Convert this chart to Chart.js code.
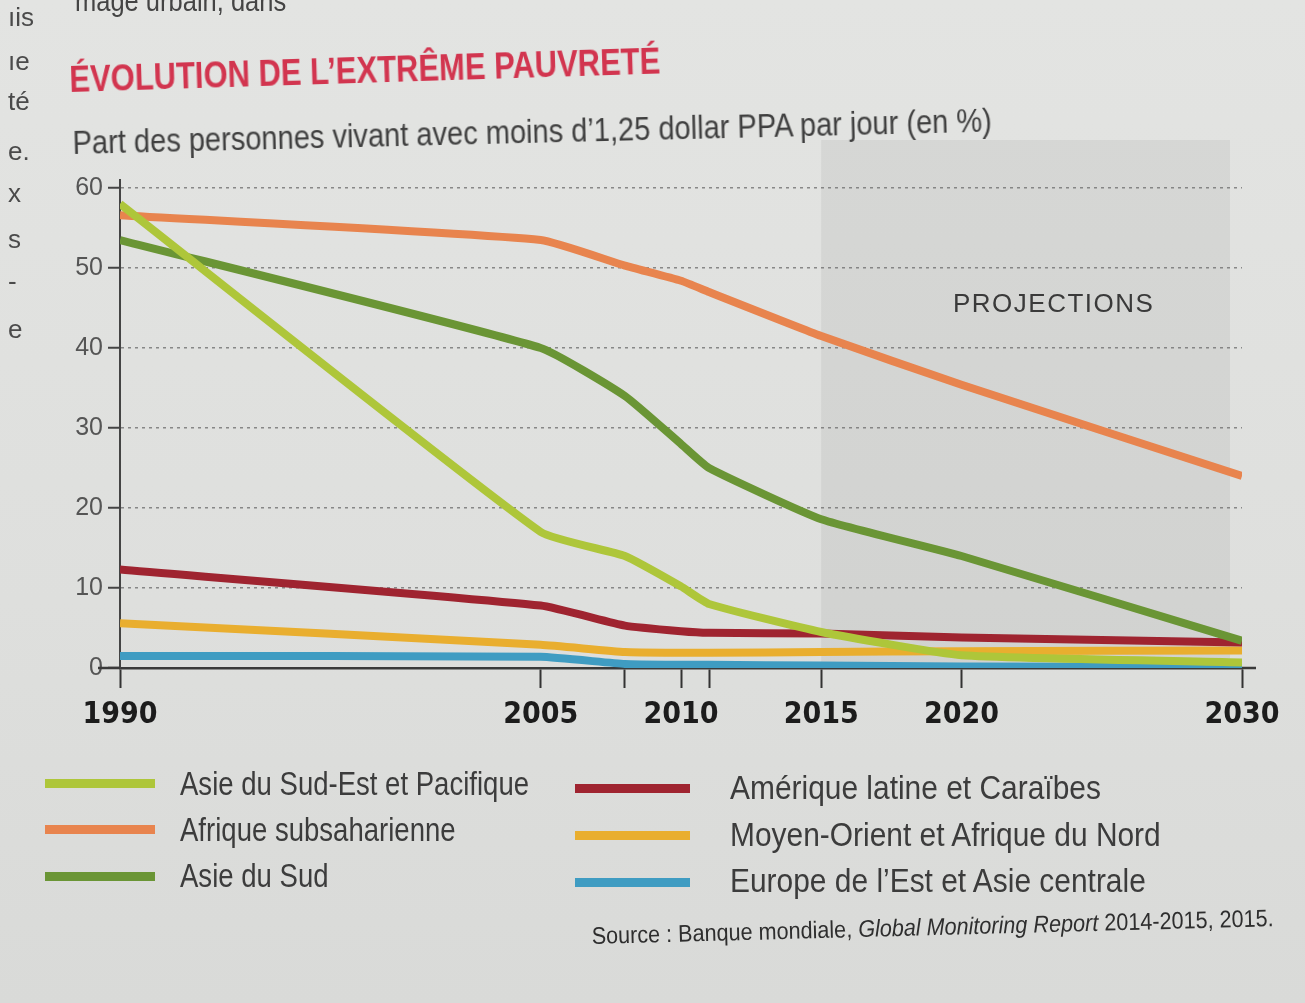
<!DOCTYPE html>
<html lang="fr">
<head>
<meta charset="utf-8">
<title>Évolution de l'extrême pauvreté</title>
<script src="https://cdn.jsdelivr.net/npm/chart.js@4/dist/chart.umd.min.js"></script>
<style>
  html, body { margin: 0; padding: 0; }
  body {
    width: 1305px; height: 1003px; overflow: hidden; position: relative;
    background: linear-gradient(180deg, #e3e4e2 0%, #dedfdd 60%, #d9dad8 100%);
    font-family: "Liberation Sans", sans-serif;
    color: #3d3d3d;
  }
  #chart { position: absolute; left: 0; top: 0; }
  .txt { position: absolute; white-space: nowrap; line-height: 1; transform-origin: left bottom; }
  #title {
    left: 70px; top: 62px; font-size: 36px; font-weight: bold; color: #d2354f;
    transform: rotate(-1.8deg) scaleX(0.86);
  }
  #subtitle {
    left: 73px; top: 126px; font-size: 33px; color: #3f3f3f;
    transform: rotate(-1.4deg) scaleX(0.88);
  }
  #proj { left: 953px; top: 290px; font-size: 26px; letter-spacing: 1.5px; color: #3a3a3a; }
  .sw { position: absolute; height: 9px; }
  .lg {
    position: absolute; white-space: nowrap; line-height: 1; font-size: 34px; color: #3c3c3c;
    transform-origin: left center;
  }
  #source {
    left: 592px; top: 924px; font-size: 24px; color: #2e2e2e;
    transform: rotate(-1.5deg) scaleX(0.9);
  }
  .edge { position: absolute; left: 8px; font-size: 26px; color: #4a4a4a; line-height: 1; }
</style>
</head>
<body>
<canvas id="chart" width="1305" height="1003"></canvas>

<div class="txt" style="left:75px; top:-14px; font-size:30px; color:#444; transform:scaleX(0.85);">mage urbain, dans</div>
<div class="edge" style="top:4px;">ıis</div>
<div class="edge" style="top:48px;">ıe</div>
<div class="edge" style="top:88px;">té</div>
<div class="edge" style="top:138px;">e.</div>
<div class="edge" style="top:180px;">x</div>
<div class="edge" style="top:226px;">s</div>
<div class="edge" style="top:268px;">-</div>
<div class="edge" style="top:316px;">e</div>

<div class="txt" id="title">ÉVOLUTION DE L’EXTRÊME PAUVRETÉ</div>
<div class="txt" id="subtitle">Part des personnes vivant avec moins d’1,25 dollar PPA par jour (en %)</div>
<div class="txt" id="proj">PROJECTIONS</div>
<div id="legend"></div>
<div class="txt" id="source">Source : Banque mondiale, <i>Global Monitoring Report</i> 2014-2015, 2015.</div>

<script>
  // ---------- data ----------
  const years     = [1990, 2005, 2008, 2010, 2011, 2015, 2020, 2030];
  const hiddenTickYears = [2008, 2011];   // tick marks without a label
  const yTicks    = [0, 10, 20, 30, 40, 50, 60];
  const projStart = 2015;

  const seAsia    = [58,   17,   14,   10.2, 8,    4.5,  1.6,  0.7];
  const ssAfrica  = [56.6, 53.5, 50.3, 48.4, 47,   41.5, 35.4, 24];
  const southAsia = [53.5, 40,   34,   28,   25,   18.6, 14,   3.4];
  const latAm     = [12.3, 7.8,  5.3,  4.6,  4.4,  4.3,  3.8,  3.2];
  const mena      = [5.6,  2.9,  2,    1.9,  1.9,  2,    2.1,  2.2];
  const eca       = [1.5,  1.4,  0.5,  0.4,  0.4,  0.3,  0.2,  0.1];

  const regionNames = [
    "Asie du Sud-Est et Pacifique",
    "Afrique subsaharienne",
    "Asie du Sud",
    "Amérique latine et Caraïbes",
    "Moyen-Orient et Afrique du Nord",
    "Europe de l’Est et Asie centrale"
  ];
  const regionColors = ["#aec63a", "#e8844e", "#6a9535", "#9f2430", "#e9ae2f", "#3f9cc2"];
  const series = [seAsia, ssAfrica, southAsia, latAm, mena, eca];

  // ---------- html legend, two columns of three ----------
  const legendEl = document.getElementById("legend");
  const legendPos = [
    { sx: 45,  sw: 110, sy: 779, tx: 180, ty: 766, k: 0.81 },
    { sx: 45,  sw: 110, sy: 825, tx: 180, ty: 812, k: 0.81 },
    { sx: 45,  sw: 110, sy: 872, tx: 180, ty: 858, k: 0.81 },
    { sx: 575, sw: 115, sy: 784, tx: 730, ty: 770, k: 0.88 },
    { sx: 575, sw: 115, sy: 831, tx: 730, ty: 817, k: 0.88 },
    { sx: 575, sw: 115, sy: 878, tx: 730, ty: 863, k: 0.88 }
  ];
  regionNames.forEach((name, i) => {
    const p = legendPos[i];
    const sw = document.createElement("div");
    sw.className = "sw";
    sw.style.cssText = `left:${p.sx}px; top:${p.sy}px; width:${p.sw}px; background:${regionColors[i]};`;
    const lb = document.createElement("div");
    lb.className = "lg";
    lb.style.cssText = `left:${p.tx}px; top:${p.ty}px; transform:scaleX(${p.k});`;
    lb.textContent = name;
    legendEl.append(sw, lb);
  });

  /* ---------- plugins ---------- */
  // grey band behind the projected years
  const projectionBand = {
    id: "projectionBand",
    beforeDraw(chart) {
      const { ctx, chartArea: a, scales: { x } } = chart;
      const x0 = x.getPixelForValue(projStart);
      ctx.save();
      ctx.fillStyle = "rgba(70,70,70,0.075)";
      ctx.fillRect(x0, a.top - 40, a.right - 12 - x0, a.bottom - a.top + 40);
      ctx.restore();
    }
  };
  // x axis line runs a little past both ends
  const axisOverhang = {
    id: "axisOverhang",
    afterDraw(chart) {
      const { ctx, chartArea: a } = chart;
      ctx.save();
      ctx.strokeStyle = "#3a3a3a";
      ctx.lineWidth = 2.5;
      ctx.beginPath();
      ctx.moveTo(a.left - 22, a.bottom); ctx.lineTo(a.left, a.bottom);
      ctx.moveTo(a.right, a.bottom);     ctx.lineTo(a.right + 14, a.bottom);
      ctx.stroke();
      ctx.restore();
    }
  };

  const Y_AXIS_W = 50, X_AXIS_H = 72;

  new Chart(document.getElementById("chart"), {
    type: "line",
    data: {
      datasets: series.map((vals, i) => ({
        label: regionNames[i],
        data: years.map((y, k) => ({ x: y, y: vals[k] })),
        borderColor: regionColors[i],
        backgroundColor: regionColors[i],
        borderWidth: 8,
        borderJoinStyle: "round",
        pointRadius: 0,
        tension: 0.15,
        fill: false
      }))
    },
    options: {
      responsive: false,
      animation: false,
      events: [],
      layout: { padding: { left: 120 - Y_AXIS_W, right: 1305 - 1242, top: 180, bottom: 1003 - 668 - X_AXIS_H } },
      plugins: { legend: { display: false }, tooltip: { enabled: false } },
      scales: {
        x: {
          type: "linear",
          min: 1990, max: 2030,
          afterFit: s => { s.height = X_AXIS_H; },
          afterBuildTicks: s => { s.ticks = years.map(v => ({ value: v })); },
          ticks: {
            autoSkip: false,
            maxRotation: 0,
            padding: 9,
            color: "#1c1c1c",
            font: { family: "'DejaVu Sans Condensed', 'Liberation Sans', sans-serif", size: 30, weight: "bold" },
            callback: v => hiddenTickYears.includes(v) ? "" : String(v)
          },
          grid: { drawOnChartArea: false, drawTicks: true, tickLength: 20, tickColor: "#333", tickWidth: 2 },
          border: { display: true, color: "#3a3a3a", width: 2.5 }
        },
        y: {
          min: 0, max: 61,
          afterFit: s => { s.width = Y_AXIS_W; },
          afterBuildTicks: s => { s.ticks = yTicks.map(v => ({ value: v })); },
          ticks: {
            padding: 5,
            color: "#555",
            font: { family: "'Liberation Sans', sans-serif", size: 25 }
          },
          grid: {
            color: c => c.tick && c.tick.value === 0 ? "rgba(0,0,0,0)" : "rgba(105,105,105,0.75)",
            lineWidth: 1.5,
            tickLength: 12,
            tickColor: "#444",
            tickWidth: 2
          },
          border: { display: true, color: "#444", width: 2, dash: [3, 4] }
        }
      }
    },
    plugins: [projectionBand, axisOverhang]
  });
</script>
</body>
</html>
